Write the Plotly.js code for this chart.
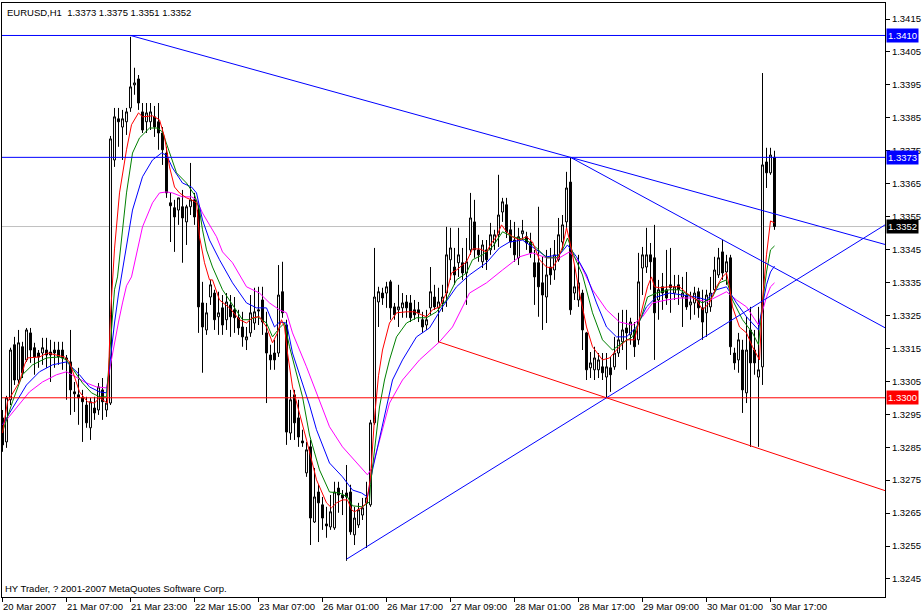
<!DOCTYPE html>
<html><head><meta charset="utf-8">
<script src="https://cdn.plot.ly/plotly-3.0.1.min.js"></script>
<style>html,body{margin:0;padding:0;background:#fff;}#chart{width:923px;height:615px;}</style>
</head><body><div id="chart"></div>
<script>
const symbol = "EURUSD,H1";
const copyright = "HY Trader, ? 2001-2007 MetaQuotes Software Corp.";

const open = [
1.32939,1.32866,1.32994,1.33161,1.33054,1.33155,1.33115,1.33197,1.33152,1.33136,
1.33136,1.33145,1.33139,1.33145,1.33145,1.33145,1.33121,1.33109,1.33018,1.33009,
1.33000,1.32978,1.32909,1.32969,1.32963,1.33024,1.32963,1.32984,1.33722,1.33847,
1.33822,1.33838,1.33880,1.33950,1.33968,1.33868,1.33838,1.33838,1.33853,1.33838,
1.33804,1.33743,1.33592,1.33577,1.33570,1.33580,1.33534,1.33580,1.33601,1.33570,
1.33288,1.33206,1.33306,1.33318,1.33246,1.33273,1.33237,1.33282,1.33267,1.33243,
1.33215,1.33176,1.33197,1.33227,1.33267,1.33297,1.33197,1.33130,1.33136,1.33136,
1.33322,1.33221,1.32893,1.33009,1.32939,1.32869,1.32772,1.32851,1.32623,1.32714,
1.32675,1.32617,1.32608,1.32605,1.32726,1.32705,1.32711,1.32714,1.32584,1.32614,
1.32644,1.32681,1.32675,1.32924,1.33291,1.33318,1.33318,1.33352,1.33276,1.33267,
1.33273,1.33291,1.33288,1.33267,1.33267,1.33237,1.33221,1.33273,1.33306,1.33273,
1.33288,1.33318,1.33419,1.33397,1.33410,1.33410,1.33379,1.33449,1.33534,1.33449,
1.33413,1.33449,1.33449,1.33470,1.33495,1.33564,1.33586,1.33510,1.33479,1.33425,
1.33498,1.33489,1.33473,1.33410,1.33410,1.33349,1.33306,1.33397,1.33388,1.33419,
1.33473,1.33534,1.33655,1.33318,1.33297,1.33318,1.33197,1.33091,1.33085,1.33085,
1.33094,1.33063,1.33091,1.33094,1.33136,1.33170,1.33212,1.33191,1.33206,1.33176,
1.33394,1.33397,1.33434,1.33425,1.33297,1.33337,1.33328,1.33343,1.33318,1.33343,
1.33306,1.33312,1.33282,1.33288,1.33322,1.33273,1.33258,1.33276,1.33328,1.33373,
1.33443,1.33382,1.33425,1.33136,1.33115,1.33145,1.33015,1.33206,1.33145,1.33063,
1.33094,1.33716,1.33683,1.33730];
const high = [
1.32963,1.33006,1.33152,1.33185,1.33206,1.33170,1.33212,1.33212,1.33167,1.33145,
1.33182,1.33182,1.33176,1.33170,1.33170,1.33170,1.33130,1.33206,1.33048,1.33091,
1.33024,1.33003,1.33000,1.33003,1.33045,1.33060,1.33000,1.33795,1.33880,1.33880,
1.33874,1.33880,1.34096,1.34002,1.33980,1.33895,1.33895,1.33895,1.33886,1.33895,
1.33822,1.33762,1.33622,1.33601,1.33607,1.33631,1.33586,1.33713,1.33622,1.33586,
1.33352,1.33288,1.33358,1.33328,1.33322,1.33312,1.33318,1.33312,1.33306,1.33267,
1.33261,1.33215,1.33312,1.33334,1.33337,1.33337,1.33261,1.33161,1.33176,1.33403,
1.33413,1.33237,1.33024,1.33024,1.32994,1.32903,1.32866,1.32872,1.32787,1.32736,
1.32699,1.32669,1.32705,1.32745,1.32745,1.32720,1.32796,1.32736,1.32669,1.32681,
1.32696,1.32745,1.32933,1.33455,1.33337,1.33334,1.33352,1.33358,1.33288,1.33343,
1.33318,1.33312,1.33312,1.33297,1.33291,1.33261,1.33267,1.33397,1.33343,1.33334,
1.33343,1.33519,1.33516,1.33455,1.33516,1.33455,1.33485,1.33622,1.33601,1.33495,
1.33479,1.33479,1.33531,1.33510,1.33677,1.33607,1.33607,1.33540,1.33534,1.33516,
1.33540,1.33504,1.33501,1.33449,1.33580,1.33428,1.33449,1.33455,1.33479,1.33546,
1.33555,1.33686,1.33728,1.33403,1.33434,1.33328,1.33200,1.33139,1.33155,1.33136,
1.33136,1.33136,1.33124,1.33185,1.33258,1.33267,1.33267,1.33243,1.33230,1.33440,
1.33458,1.33516,1.33470,1.33525,1.33358,1.33379,1.33449,1.33455,1.33373,1.33373,
1.33367,1.33382,1.33322,1.33337,1.33334,1.33328,1.33328,1.33367,1.33428,1.33455,
1.33479,1.33434,1.33434,1.33152,1.33197,1.33176,1.33246,1.33276,1.33206,1.33276,
1.33986,1.33759,1.33759,1.33750];
const low = [
1.32836,1.32848,1.32978,1.33039,1.33045,1.33060,1.33109,1.33106,1.33070,1.33091,
1.33100,1.33091,1.33048,1.33091,1.33100,1.33085,1.32994,1.32948,1.32957,1.32918,
1.32866,1.32909,1.32872,1.32933,1.32948,1.32933,1.32942,1.32978,1.33701,1.33762,
1.33722,1.33798,1.33868,1.33920,1.33874,1.33804,1.33804,1.33813,1.33792,1.33753,
1.33707,1.33607,1.33473,1.33443,1.33525,1.33410,1.33464,1.33555,1.33525,1.33197,
1.33076,1.33191,1.33282,1.33206,1.33191,1.33191,1.33206,1.33185,1.33197,1.33191,
1.33155,1.33145,1.33185,1.33206,1.33221,1.33191,1.32984,1.33085,1.33085,1.33124,
1.33243,1.32857,1.32872,1.32872,1.32851,1.32851,1.32760,1.32553,1.32620,1.32562,
1.32599,1.32575,1.32599,1.32599,1.32651,1.32644,1.32505,1.32584,1.32553,1.32605,
1.32629,1.32544,1.32669,1.32918,1.33215,1.33282,1.33273,1.33237,1.33237,1.33215,
1.33243,1.33243,1.33230,1.33237,1.33230,1.33197,1.33206,1.33252,1.33267,1.33167,
1.33261,1.33276,1.33358,1.33343,1.33367,1.33358,1.33282,1.33434,1.33425,1.33413,
1.33394,1.33388,1.33434,1.33449,1.33458,1.33534,1.33485,1.33455,1.33413,1.33403,
1.33479,1.33449,1.33425,1.33282,1.33246,1.33206,1.33227,1.33343,1.33358,1.33413,
1.33449,1.33516,1.33252,1.33297,1.33276,1.33145,1.33054,1.33060,1.33054,1.33060,
1.33054,1.33000,1.33018,1.33085,1.33124,1.33145,1.33085,1.33161,1.33124,1.33161,
1.33312,1.33379,1.33328,1.33115,1.33237,1.33267,1.33282,1.33258,1.33297,1.33282,
1.33215,1.33267,1.33237,1.33252,1.33243,1.33176,1.33185,1.33261,1.33318,1.33364,
1.33358,1.33343,1.33130,1.33085,1.33076,1.32954,1.32984,1.32851,1.33070,1.32851,
1.33039,1.33637,1.33677,1.33510];
const close = [
1.32857,1.33000,1.33145,1.33054,1.33167,1.33076,1.33206,1.33145,1.33124,1.33124,
1.33152,1.33130,1.33130,1.33136,1.33124,1.33121,1.33115,1.33024,1.33012,1.33000,
1.32988,1.32924,1.32988,1.32954,1.33033,1.32988,1.32984,1.33786,1.33853,1.33838,
1.33847,1.33868,1.33944,1.33956,1.33895,1.33813,1.33865,1.33868,1.33822,1.33804,
1.33753,1.33622,1.33583,1.33549,1.33607,1.33546,1.33580,1.33601,1.33549,1.33276,
1.33215,1.33258,1.33343,1.33237,1.33258,1.33221,1.33291,1.33246,1.33243,1.33212,
1.33185,1.33185,1.33258,1.33261,1.33264,1.33230,1.33136,1.33115,1.33115,1.33312,
1.33258,1.32896,1.32994,1.32924,1.32881,1.32863,1.32842,1.32635,1.32699,1.32681,
1.32635,1.32611,1.32654,1.32714,1.32705,1.32696,1.32699,1.32593,1.32635,1.32660,
1.32666,1.32696,1.32924,1.33306,1.33322,1.33303,1.33337,1.33273,1.33252,1.33276,
1.33288,1.33273,1.33243,1.33252,1.33258,1.33215,1.33237,1.33322,1.33276,1.33291,
1.33306,1.33434,1.33455,1.33373,1.33434,1.33379,1.33413,1.33546,1.33449,1.33434,
1.33464,1.33419,1.33495,1.33495,1.33555,1.33595,1.33504,1.33473,1.33434,1.33489,
1.33507,1.33470,1.33440,1.33367,1.33337,1.33312,1.33373,1.33373,1.33434,1.33495,
1.33525,1.33637,1.33267,1.33337,1.33349,1.33206,1.33085,1.33106,1.33121,1.33115,
1.33076,1.33094,1.33070,1.33136,1.33176,1.33206,1.33197,1.33230,1.33155,1.33352,
1.33434,1.33434,1.33413,1.33258,1.33328,1.33318,1.33303,1.33334,1.33337,1.33328,
1.33318,1.33276,1.33291,1.33318,1.33273,1.33230,1.33312,1.33318,1.33388,1.33425,
1.33379,1.33413,1.33155,1.33106,1.33176,1.33024,1.33145,1.33106,1.33106,1.33085,
1.33707,1.33683,1.33737,1.33520];

// Moving-average lines (bar position, price)
const maRedX = [0,1.25,4.25,5.5,6.25,9.25,11.25,13.75,15.5,16.75,18,19.25,21.25,23,24.25,26.25,27,28,29.25,31,32.25,34,35,37.5,39.25,40.5,41.75,43,44.25,46,47.25,48.5,49.25,50.5,51.75,52.5,54.25,56.75,59.25,61,62.5,64.25,66,67.5,68.75,69.75,70.5,71.25,72.5,74.25,76,78.5,81,82.25,83.5,85,86.25,87.25,88,89.75,91,92,93,94,95,96.75,98.5,101,103,104.75,106,107.5,109.25,111,112.25,113.5,116,117.5,119.25,121,122.25,123.5,124.75,126,127.5,129.25,131,132.5,134.25,136,137.5,138.75,140,141,141.75,143,144.25,146,147.5,150,151.75,153.5,156,158,159.75,161.25,162.25,163,164.25,166.75,169.25,171,173.5,175,176.75,178.5,180,181,181.75,182.5,184.25,186,187.5,189.25,190,191,192,193];
const maRedY = [1.32893,1.32988,1.33048,1.33100,1.33121,1.33124,1.33136,1.33130,1.33124,1.33109,1.33063,1.33018,1.32988,1.32984,1.33000,1.32984,1.33252,1.33452,1.33622,1.33753,1.33829,1.33865,1.33853,1.33856,1.33844,1.33792,1.33701,1.33640,1.33622,1.33607,1.33601,1.33592,1.33489,1.33410,1.33358,1.33358,1.33297,1.33273,1.33237,1.33227,1.33243,1.33246,1.33215,1.33167,1.33197,1.33237,1.33215,1.33136,1.33033,1.32954,1.32872,1.32751,1.32681,1.32666,1.32681,1.32690,1.32690,1.32660,1.32654,1.32666,1.32681,1.32757,1.32939,1.33067,1.33145,1.33227,1.33258,1.33261,1.33261,1.33252,1.33246,1.33267,1.33276,1.33318,1.33379,1.33388,1.33413,1.33452,1.33452,1.33443,1.33470,1.33489,1.33525,1.33504,1.33489,1.33479,1.33489,1.33473,1.33419,1.33397,1.33394,1.33419,1.33458,1.33516,1.33479,1.33403,1.33318,1.33215,1.33155,1.33115,1.33121,1.33145,1.33176,1.33176,1.33267,1.33337,1.33367,1.33337,1.33334,1.33337,1.33337,1.33318,1.33297,1.33267,1.33288,1.33337,1.33367,1.33379,1.33337,1.33276,1.33215,1.33197,1.33155,1.33115,1.33297,1.33434,1.33537,1.33531];
const maGreenX = [0,2.5,5,7.5,11,14.25,16,18,20,22.25,24.25,26,27,28,28.75,31,32.5,34.25,36.75,38.75,40,41.75,43.5,46,48,49.25,50,51,52.5,55,57.5,60,61.75,63.75,66,67.5,69.25,70.5,71.75,73.5,75,76.75,79.25,81.75,84.25,86.25,87.5,90,91.75,92,93,94.25,95.5,96.75,98.5,101,103.5,106,108.5,111,113.5,116,117.5,120,122.5,125,127.5,131,133.5,136,138.5,140,141.25,143,145,147.5,150,152.5,155,157.5,159.75,161.25,163.5,166.75,169.25,172.5,175,177.5,179.25,181,182.5,185,187.5,189,190,191,192,193];
const maGreenY = [1.32896,1.32988,1.33070,1.33100,1.33121,1.33124,1.33115,1.33079,1.33045,1.33015,1.33003,1.33003,1.33176,1.33328,1.33367,1.33622,1.33743,1.33789,1.33819,1.33819,1.33807,1.33743,1.33683,1.33652,1.33616,1.33570,1.33510,1.33449,1.33397,1.33328,1.33282,1.33237,1.33237,1.33246,1.33227,1.33185,1.33212,1.33227,1.33155,1.33076,1.33003,1.32887,1.32781,1.32714,1.32711,1.32699,1.32672,1.32669,1.32684,1.32736,1.32842,1.32972,1.33054,1.33115,1.33185,1.33227,1.33243,1.33243,1.33261,1.33297,1.33358,1.33379,1.33419,1.33434,1.33458,1.33504,1.33489,1.33479,1.33455,1.33425,1.33425,1.33449,1.33485,1.33428,1.33373,1.33258,1.33176,1.33145,1.33167,1.33185,1.33246,1.33306,1.33318,1.33328,1.33328,1.33306,1.33288,1.33306,1.33349,1.33358,1.33297,1.33237,1.33197,1.33161,1.33288,1.33382,1.33449,1.33461];
const maBlueX = [0,3.5,6,9.25,12.5,16,19.25,21.75,24.25,26,27,28,29,29.75,32.5,35,37.5,39.75,41,42.5,45,47.25,48.5,50,51.75,54.25,57.5,61,63.5,66,68,69.25,71,72.5,75,76.75,78.5,81.75,85,87.5,89.75,91.25,92.5,94.25,96,97.5,100,103.5,106.75,110,113.5,116.75,121,124.25,126.75,130,132.5,136,139.25,141.25,143.5,146,148.5,151,153.5,156,158.5,161,163.5,166.75,170,173.5,176,178.5,181,183.5,186,189,190,191,192,193];
const maBlueY = [1.32918,1.32988,1.33039,1.33079,1.33100,1.33109,1.33070,1.33033,1.33018,1.33015,1.33124,1.33227,1.33315,1.33367,1.33570,1.33671,1.33722,1.33743,1.33737,1.33698,1.33652,1.33640,1.33622,1.33540,1.33479,1.33419,1.33349,1.33288,1.33273,1.33273,1.33215,1.33230,1.33227,1.33136,1.33045,1.32978,1.32903,1.32802,1.32760,1.32720,1.32711,1.32699,1.32781,1.32872,1.32972,1.33054,1.33115,1.33185,1.33212,1.33276,1.33337,1.33373,1.33410,1.33455,1.33473,1.33479,1.33458,1.33428,1.33434,1.33464,1.33428,1.33373,1.33288,1.33215,1.33185,1.33185,1.33215,1.33276,1.33306,1.33318,1.33312,1.33306,1.33297,1.33328,1.33337,1.33288,1.33246,1.33206,1.33282,1.33343,1.33382,1.33400];
const maMagentaX = [0,3.5,6.75,10,13.5,16,18.5,21,23.5,26,27,28,29,30,31,32.25,35,37.5,39.25,41,42.5,45,47.25,48.5,50,51.75,53.5,55,57.5,61,64.25,66.75,69.25,71,72.5,76,79.25,81.75,85,88.5,91.25,92.5,94.25,96.75,100,104.25,109.25,112.5,116.75,121,125,129.25,132.5,136,139.25,141.75,144.25,147.5,151,154.25,157.5,160,162.5,166,169.25,172.5,176,178.5,181,183.5,186,189,190,191,192,193];
const maMagentaY = [1.32918,1.32969,1.33018,1.33048,1.33070,1.33079,1.33063,1.33045,1.33033,1.33030,1.33100,1.33170,1.33230,1.33288,1.33340,1.33367,1.33519,1.33592,1.33622,1.33625,1.33622,1.33610,1.33610,1.33601,1.33561,1.33525,1.33489,1.33443,1.33410,1.33337,1.33318,1.33288,1.33267,1.33258,1.33197,1.33094,1.32994,1.32912,1.32851,1.32802,1.32766,1.32790,1.32872,1.32984,1.33054,1.33115,1.33170,1.33215,1.33318,1.33349,1.33388,1.33428,1.33440,1.33425,1.33425,1.33443,1.33410,1.33328,1.33267,1.33230,1.33221,1.33246,1.33288,1.33297,1.33303,1.33303,1.33291,1.33306,1.33322,1.33297,1.33276,1.33221,1.33267,1.33306,1.33337,1.33349];

const tickIndex = [0,16,32,48,64,80,96,112,128,144,160,176,192];
const tickLabels = ["20 Mar 2007","21 Mar 07:00","21 Mar 23:00","22 Mar 15:00","23 Mar 07:00","26 Mar 01:00","26 Mar 17:00","27 Mar 09:00","28 Mar 01:00","28 Mar 17:00","29 Mar 09:00","30 Mar 01:00","30 Mar 17:00"];
const priceTicks = [1.3245,1.3255,1.3265,1.3275,1.3285,1.3295,1.3305,1.3315,1.3325,1.3335,1.3345,1.3355,1.3365,1.3375,1.3385,1.3395,1.3405,1.3415];

// horizontal price levels and trend lines (start bar/price, second anchor bar/price)
const levelPrices = [1.3410, 1.3373, 1.3300];
const trendStartX = [32, 142, 86, 109];
const trendStartY = [1.3410, 1.3373, 1.3251, 1.3317];
const trendPassX = [142, 180, 151, 151];
const trendPassY = [1.3373, 1.3348, 1.3300, 1.3300];

// ---- styles ----
const FONT = "Tahoma, 'Liberation Sans', Arial, sans-serif";
const levelColors = ['#0000FF', '#0000FF', '#FF0000'];
const trendColors = ['#0000FF', '#0000FF', '#0000FF', '#FF0000'];
const X_MIN = -0.125, X_MAX = 220.625;
const Y_MIN = 1.323952, Y_MAX = 1.341986;

const idx = open.map((_, i) => i);
const last = open.length - 1;
const bid = close[last];

const traces = [
  {type:'candlestick', x: idx, open: open, high: high, low: low, close: close,
   increasing:{line:{color:'#000000', width:1}, fillcolor:'#FFFFFF'},
   decreasing:{line:{color:'#000000', width:1}, fillcolor:'#000000'},
   whiskerwidth:0, hoverinfo:'skip', showlegend:false},
  {type:'scatter', mode:'lines', x: maMagentaX, y: maMagentaY, line:{color:'#FF00FF', width:1}, hoverinfo:'skip', showlegend:false},
  {type:'scatter', mode:'lines', x: maBlueX, y: maBlueY, line:{color:'#0000FF', width:1}, hoverinfo:'skip', showlegend:false},
  {type:'scatter', mode:'lines', x: maGreenX, y: maGreenY, line:{color:'#008000', width:1}, hoverinfo:'skip', showlegend:false},
  {type:'scatter', mode:'lines', x: maRedX, y: maRedY, line:{color:'#FF0000', width:1}, hoverinfo:'skip', showlegend:false}
];

const shapes = [];
shapes.push({type:'line', xref:'paper', x0:0, x1:1, yref:'y', y0:bid, y1:bid, line:{color:'#C0C0C0', width:1}, layer:'below'});
levelPrices.forEach((p, k) => shapes.push({type:'line', xref:'paper', x0:0, x1:1, yref:'y', y0:p, y1:p, line:{color:levelColors[k], width:1}}));
trendStartX.forEach((x0, k) => {
  const slope = (trendPassY[k] - trendStartY[k]) / (trendPassX[k] - x0);
  const yEnd = trendStartY[k] + slope * (X_MAX - x0);
  shapes.push({type:'line', xref:'x', yref:'y', x0:x0, y0:trendStartY[k], x1:X_MAX, y1:yEnd, line:{color:trendColors[k], width:1}});
});

const annotations = [];
const nb = '\u00a0';
annotations.push({xref:'paper', yref:'paper', x:0, y:1, xanchor:'left', yanchor:'top', xshift:3, yshift:-2,
  text: symbol + nb + nb + [open[last], high[last], low[last], close[last]].map(v => v.toFixed(4)).join(' '),
  showarrow:false, font:{family:FONT, size:9.5, color:'#000'}});
annotations.push({xref:'paper', yref:'paper', x:0, y:0, xanchor:'left', yanchor:'bottom', xshift:1, yshift:1,
  text: copyright, showarrow:false, font:{family:FONT, size:9.5, color:'#000'}});
tickIndex.forEach((t, k) => annotations.push({xref:'x', yref:'paper', x:t, y:0, xanchor:'left', yanchor:'top', xshift:-2, yshift:-2,
  text: tickLabels[k], showarrow:false, font:{family:FONT, size:9.5, color:'#000'}}));
const boxPrices = [levelPrices[0], levelPrices[1], bid, levelPrices[2]];
const boxColors = ['#0000FF', '#0000FF', '#000000', '#FF0000'];
boxPrices.forEach((p, k) => annotations.push({xref:'paper', yref:'y', x:1, y:p, xanchor:'left', yanchor:'middle', xshift:1,
  text: p.toFixed(4), showarrow:false, bgcolor: boxColors[k], borderpad:1, font:{family:FONT, size:9.5, color:'#FFFFFF'}}));

const layout = {
  width:923, height:615,
  margin:{l:2, r:38, t:3, b:18, pad:0},
  paper_bgcolor:'#FFFFFF', plot_bgcolor:'#FFFFFF',
  showlegend:false, dragmode:false,
  xaxis:{type:'linear', range:[X_MIN, X_MAX], showgrid:false, zeroline:false, showline:true, mirror:true,
    linecolor:'#000', linewidth:1, ticks:'outside', ticklen:4, tickcolor:'#000', tickwidth:1,
    tickvals: tickIndex, showticklabels:false, rangeslider:{visible:false}, fixedrange:true},
  yaxis:{side:'right', range:[Y_MIN, Y_MAX], showgrid:false, zeroline:false, showline:true, mirror:true,
    linecolor:'#000', linewidth:1, ticks:'outside', ticklen:4, tickcolor:'#000', tickwidth:1,
    tickvals: priceTicks, ticktext: priceTicks.map(v => v.toFixed(4)),
    tickfont:{family:FONT, size:9.5, color:'#000'}, fixedrange:true},
  shapes: shapes, annotations: annotations
};

Plotly.newPlot('chart', traces, layout, {displayModeBar:false, staticPlot:true});
</script></body></html>
